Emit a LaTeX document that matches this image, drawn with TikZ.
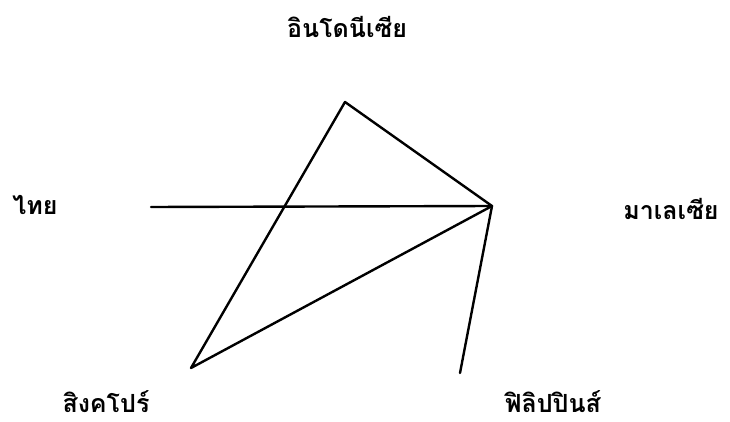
\documentclass[tikz,border=0pt]{standalone}
\usepackage{fontspec}
\newfontfamily\thaifont[Script=Thai]{Loma}
\begin{document}
\begin{tikzpicture}[x=1pt,y=-1pt,
  lbl/.style={font=\thaifont\bfseries\fontsize{25}{29}\selectfont, inner sep=0pt,
    text height=22pt, text depth=1pt, anchor=base},
  edge/.style={line width=2.4pt, line cap=round, line join=round}]
\useasboundingbox (0,0) rectangle (730,422);
\coordinate (indo) at (345,102);
\coordinate (mal) at (492,206);
\coordinate (thai) at (151,207);
\coordinate (sing) at (191,368);
\coordinate (phil) at (460,373);
\node[lbl] (lindo) at (347,38) {อินโดนีเซีย};
\node[lbl] (lthai) at (35,214) {ไทย};
\node[lbl] (lmal) at (671,219) {มาเลเซีย};
\node[lbl] (lsing) at (106,412) {สิงคโปร์};
\node[lbl] (lphil) at (553,412) {ฟิลิปปินส์};
\draw[edge] (sing) -- (indo) -- (mal) -- (sing);
\draw[edge] (thai) -- (mal) -- (phil);
\end{tikzpicture}
\end{document}
